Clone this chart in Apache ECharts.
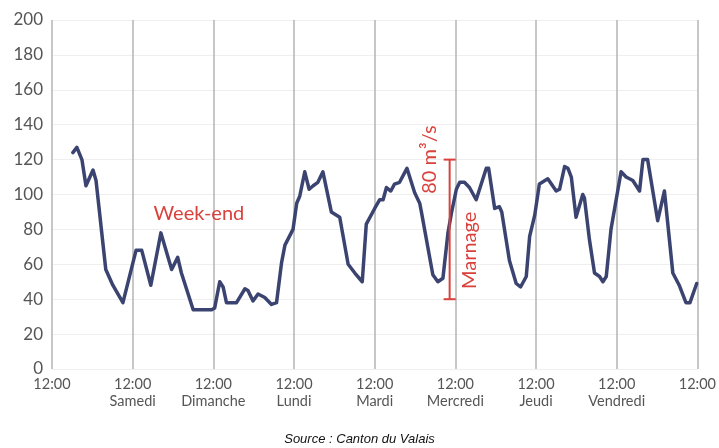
<!DOCTYPE html>
<html>
<head>
<meta charset="utf-8">
<script src="https://cdn.jsdelivr.net/npm/echarts@6/dist/echarts.min.js"></script>
<style>html,body{margin:0;padding:0;background:#fff}#chart{width:719px;height:448px}</style>
</head>
<body>
<div id="chart"></div>
<script>
// hours since the first 12:00 tick (one tick every 24 h)
const hours = [6.2,7.4,8.9,10.1,12.2,13.1,16.0,18.1,21.1,25.0,
  26.7,29.4,32.4,35.6,37.4,38.5,42.0,47.5,48.4,49.9,
  50.9,51.9,54.9,57.4,58.3,59.8,61.3,63.3,65.3,66.8,
  68.3,69.3,71.7,72.8,73.7,75.2,76.5,77.7,79.1,80.6,
  83.1,85.6,86.1,88.1,90.1,92.3,93.5,96.0,97.5,98.5,
  99.5,100.8,101.9,103.4,105.6,107.9,109.4,109.9,113.3,114.8,
  116.3,117.8,118.8,120.3,121.3,122.7,124.2,126.2,128.2,129.2,
  129.9,131.7,133.1,133.8,136.1,138.1,139.4,141.1,142.1,143.6,
  145.0,147.5,150.0,151.0,152.5,153.5,154.5,155.9,157.9,158.4,
  159.9,161.4,162.9,163.9,164.9,166.3,169.3,170.8,172.8,174.8,
  175.8,177.2,180.2,182.2,184.7,186.6,188.6,189.8,191.8];
// discharge (m3/s)
const flow = [124,127,120,105,114,108,57,48,38,68,
  68,48,78,57,64,55,34,34,35,50,
  47,38,38,46,45,39,43,41,37,38,
  61,71,80,95,99,113,103,105,107,113,
  90,87,86,60,55,50,83,92,97,97,
  104,102,106,107,115,101,95,90,54,50,
  52,78,89,103,107,107,104,97,109,115,
  115,92,93,90,62,49,47,53,76,88,
  106,109,102,103,116,115,110,87,100,98,
  74,55,53,50,53,80,113,110,108,102,
  120,120,85,102,55,48,38,38,49];
const tickTime = '12:00';
const dayNames = ['', 'Samedi', 'Dimanche', 'Lundi', 'Mardi', 'Mercredi', 'Jeudi', 'Vendredi', ''];
const yTicks = [0,20,40,60,80,100,120,140,160,180,200];
// annotations
const marnageHour = 118.3;
const marnageRange = [40, 120];
const marnageLabelValue = 68;
const weekendPos = [43.7, 89];
const texts = { range: '80 m³/s', marnage: 'Marnage', weekend: 'Week-end', source: 'Source : Canton du Valais' };

const RED = '#d9423c';
const chart = echarts.init(document.getElementById('chart'));
chart.setOption({
  animation: false,
  title: {
    text: texts.source, left: 'center', top: 428,
    textStyle: { fontFamily: 'Liberation Sans', fontStyle: 'italic', fontWeight: 'normal', fontSize: 13, color: '#111' }
  },
  grid: { left: 52, right: 21, top: 20, bottom: 79, containLabel: false },
  xAxis: {
    type: 'value', min: 0, max: 192, interval: 24,
    axisLine: { show: false }, axisTick: { show: false },
    splitLine: { show: true, lineStyle: { color: '#b4b4b4', width: 1.5 } },
    axisLabel: {
      margin: 7, color: '#555', fontFamily: 'Lato', fontSize: 14.5, lineHeight: 17,
      formatter: function (v) { const d = dayNames[Math.round(v / 24)]; return d ? tickTime + '\n' + d : tickTime; }
    }
  },
  yAxis: {
    type: 'value', min: 0, max: 200, interval: 20,
    axisLine: { show: false }, axisTick: { show: false },
    splitLine: { show: true, lineStyle: { color: '#efefef', width: 1 } },
    axisLabel: { margin: 9, color: '#555', fontFamily: 'Lato', fontSize: 17,
      formatter: function (v) { return yTicks.indexOf(v) >= 0 ? String(v) : ''; } }
  },
  series: [
    {
      type: 'line', data: hours.map((h, i) => [h, flow[i]]), showSymbol: false, symbol: 'none',
      lineStyle: { color: '#3b4470', width: 3.5, join: 'round', cap: 'round' }, z: 3
    },
    {
      type: 'custom', z: 5, silent: true,
      data: [[marnageHour, marnageRange[0]]],
      renderItem: function (params, api) {
        const top = api.coord([marnageHour, marnageRange[1]]);
        const bot = api.coord([marnageHour, marnageRange[0]]);
        const mid = api.coord([marnageHour, marnageLabelValue]);
        const wk = api.coord(weekendPos);
        const ls = { stroke: RED, lineWidth: 2 };
        const ts = { fill: RED, fontFamily: 'Lato', fontSize: 20, align: 'center', verticalAlign: 'middle' };
        return {
          type: 'group', children: [
            { type: 'line', shape: { x1: top[0], y1: top[1], x2: bot[0], y2: bot[1] }, style: ls },
            { type: 'line', shape: { x1: top[0] - 6, y1: top[1], x2: top[0] + 6, y2: top[1] }, style: ls },
            { type: 'line', shape: { x1: bot[0] - 6, y1: bot[1], x2: bot[0] + 6, y2: bot[1] }, style: ls },
            { type: 'text', x: top[0] - 20, y: top[1], rotation: Math.PI / 2, style: Object.assign({ text: texts.range }, ts) },
            { type: 'text', x: mid[0] + 20, y: mid[1], rotation: Math.PI / 2, style: Object.assign({ text: texts.marnage }, ts) },
            { type: 'text', x: wk[0], y: wk[1], style: Object.assign({ text: texts.weekend }, ts) }
          ]
        };
      }
    }
  ]
});
</script>
</body>
</html>
